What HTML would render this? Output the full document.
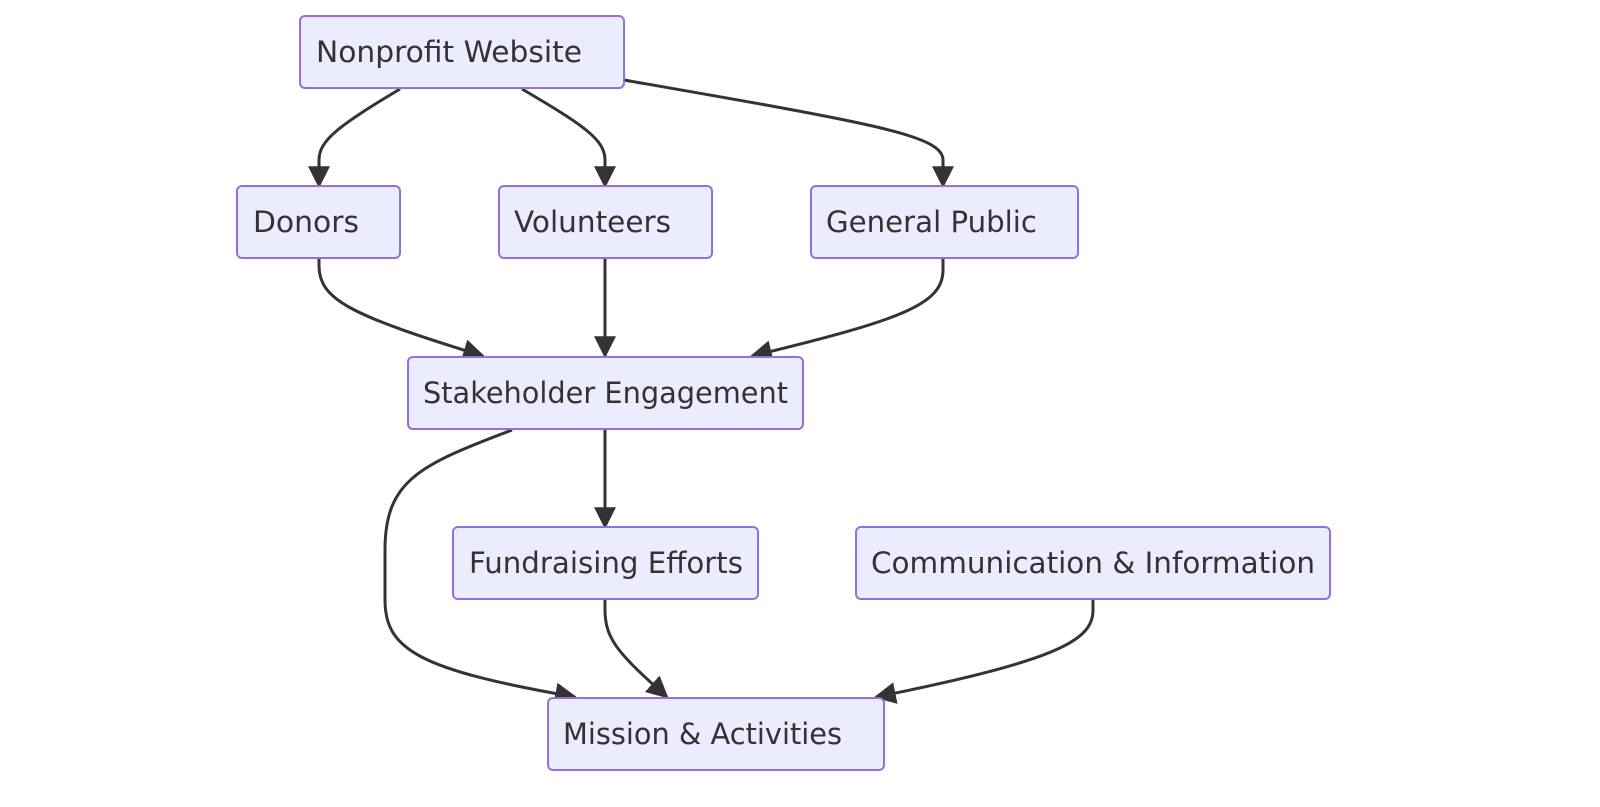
<!DOCTYPE html>
<html><head><meta charset="utf-8"><style>
body{margin:0;background:#fff;width:1600px;height:802px;overflow:hidden}
</style></head><body>
<svg width="1600" height="802" viewBox="0 0 1600 802" xmlns="http://www.w3.org/2000/svg">
<defs>
<marker id="a" viewBox="0 0 10 10" refX="9" refY="5" markerUnits="userSpaceOnUse" markerWidth="22" markerHeight="22" orient="auto">
<path d="M0,0 L10,5 L0,10 z" fill="#333"/>
</marker>
</defs>
<g fill="none" stroke="#333" stroke-width="3" marker-end="url(#a)">
<path d="M400,89 C340,125 319,140 319,160 L319,186"/>
<path d="M522,89 C585,126 605,140 605,160 L605,186"/>
<path d="M624,80 C870,123 943,135 943,160 L943,186"/>
<path d="M319,258 L319,265 C319,300 350,315 483,356"/>
<path d="M605,258 L605,356"/>
<path d="M943,258 L943,270 C943,305 900,320 752,356"/>
<path d="M512,430 C420,465 385,480 385,550 L385,600 C385,650 420,670 575,697"/>
<path d="M605,430 L605,527"/>
<path d="M605,599 L605,610 C605,640 620,655 667,697"/>
<path d="M1093,599 L1093,610 C1093,640 1060,660 876,697"/>
</g>
<g fill="#ECECFF" stroke="#9370DB" stroke-width="2">
<rect x="300" y="16" width="324" height="72" rx="5"/>
<rect x="237" y="186" width="163" height="72" rx="5"/>
<rect x="499" y="186" width="213" height="72" rx="5"/>
<rect x="811" y="186" width="267" height="72" rx="5"/>
<rect x="408" y="357" width="395" height="72" rx="5"/>
<rect x="453" y="527" width="305" height="72" rx="5"/>
<rect x="856" y="527" width="474" height="72" rx="5"/>
<rect x="548" y="698" width="336" height="72" rx="5"/>
</g>
<g font-family="'DejaVu Sans',sans-serif" font-size="29" fill="#333">
<text x="316" y="62" textLength="266" lengthAdjust="spacingAndGlyphs">Nonprofit Website</text>
<text x="253" y="232" textLength="106" lengthAdjust="spacingAndGlyphs">Donors</text>
<text x="514" y="232" textLength="157" lengthAdjust="spacingAndGlyphs">Volunteers</text>
<text x="826" y="232" textLength="211" lengthAdjust="spacingAndGlyphs">General Public</text>
<text x="423" y="403" textLength="365" lengthAdjust="spacingAndGlyphs">Stakeholder Engagement</text>
<text x="469" y="573" textLength="274" lengthAdjust="spacingAndGlyphs">Fundraising Efforts</text>
<text x="871" y="573" textLength="444" lengthAdjust="spacingAndGlyphs">Communication &amp; Information</text>
<text x="563" y="744" textLength="279" lengthAdjust="spacingAndGlyphs">Mission &amp; Activities</text>
</g>
</svg>
</body></html>
